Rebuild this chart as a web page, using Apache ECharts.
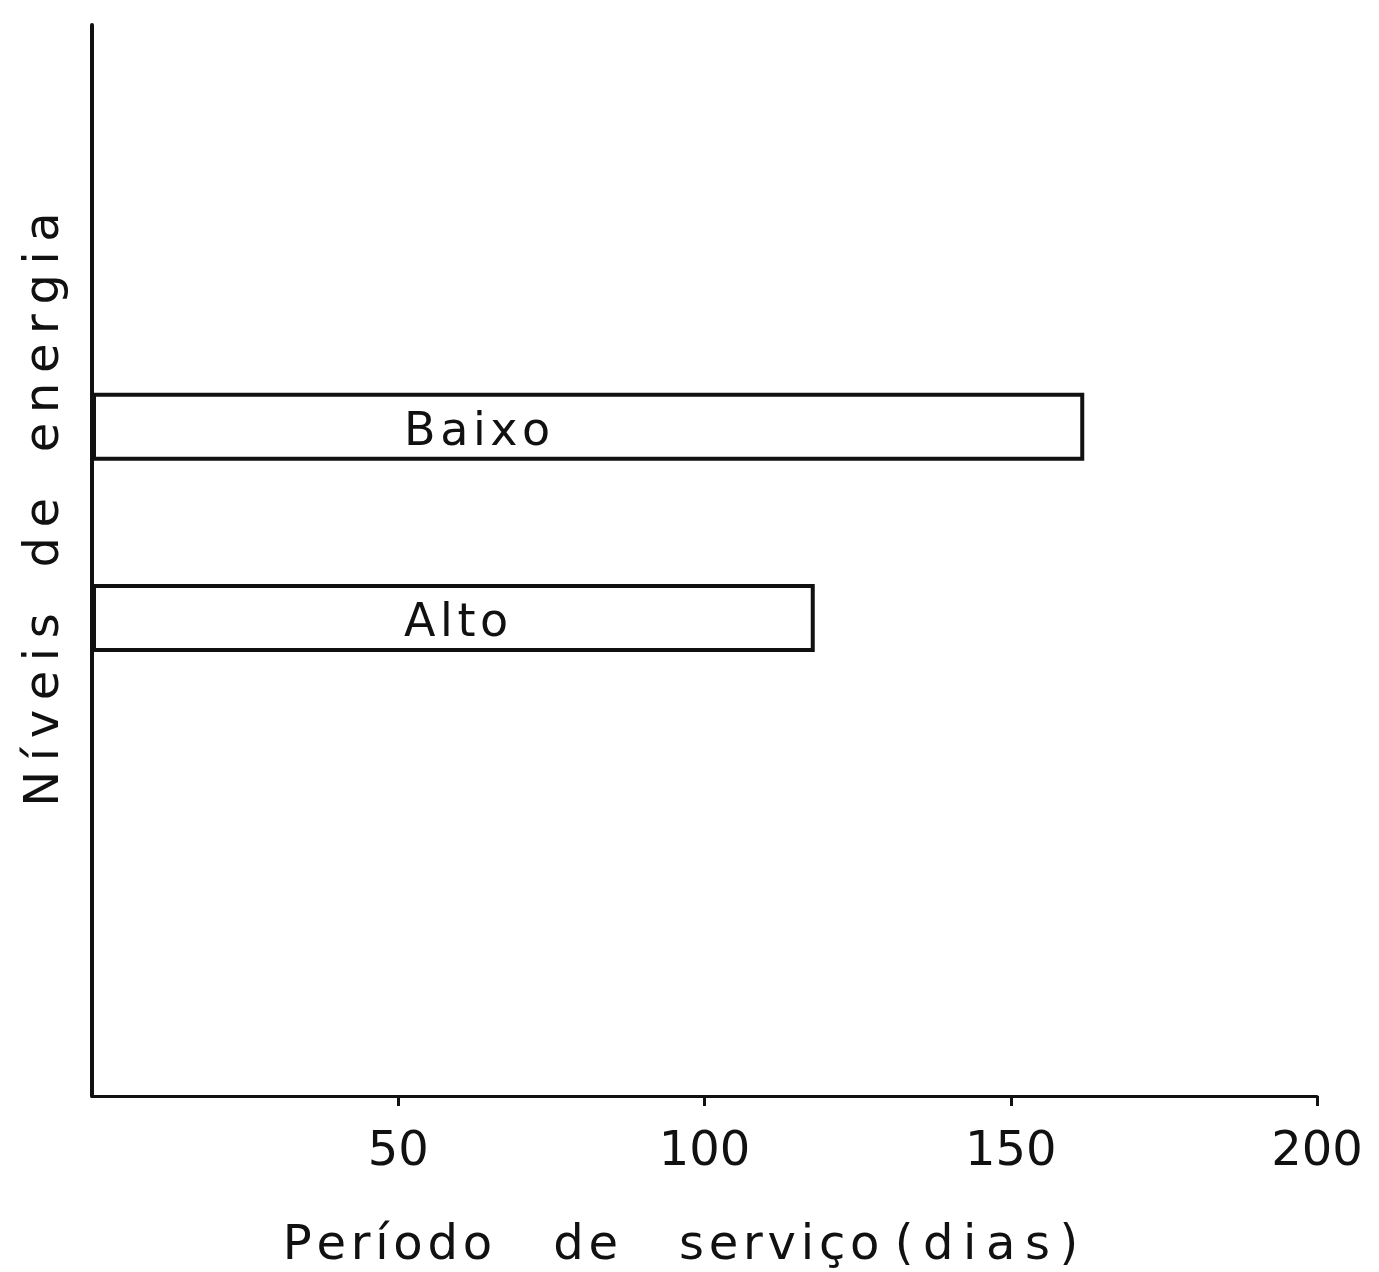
<!DOCTYPE html>
<html>
<head>
<meta charset="utf-8">
<script src="https://cdn.jsdelivr.net/npm/echarts@6/dist/echarts.min.js"></script>
<style>
  html, body { margin: 0; padding: 0; background: #fff; }
  #chart { width: 1379px; height: 1272px; }
</style>
</head>
<body>
<div id="chart"></div>
<script>
// Energy levels and their service period in days
const niveis = ['Baixo', 'Alto'];
const diasServico = [162, 118];
const xTicks = [50, 100, 150, 200];

// The vertical axis is a row of empty slots; each level sits in its own slot
const slotCount = 28;
const slotOf = { 'Baixo': 17, 'Alto': 12 };
const slots = Array.from({ length: slotCount }, () => '');
niveis.forEach(n => { slots[slotOf[n]] = n; });
const seriesData = slots.map(s => {
  const i = niveis.indexOf(s);
  return i < 0 ? null : diasServico[i];
});

// Spread letters apart with a narrow space between characters
const THIN = '\u2009';
const HAIR = '\u200A';
const spread = (word, gap) => Array.from(word).join(gap);
const spaced = (text, gap) => text.split(' ').map(w => spread(w, gap)).join('   ');

const xName = spread('Período', HAIR) + '    ' + spread('de', HAIR) + '    ' +
              spread('serviço', HAIR) + ' ' + spread('(dias)', THIN);

const ink = '#111';
const font = 'DejaVu Sans';

const chart = echarts.init(document.getElementById('chart'), null, { renderer: 'canvas' });
chart.setOption({
  animation: false,
  backgroundColor: '#fff',
  grid: { left: 92, right: 62, top: 25, bottom: 176, containLabel: false, outerBoundsMode: 'none' },
  xAxis: {
    type: 'value',
    min: 0,
    max: 200,
    interval: 50,
    name: xName,
    nameLocation: 'middle',
    nameGap: 127,
    nameTextStyle: { color: ink, fontFamily: font, fontSize: 48, padding: [0, 48, 0, 0] },
    axisLine: { show: true, lineStyle: { color: ink, width: 3 } },
    axisTick: { show: true, length: 10, customValues: xTicks, lineStyle: { color: ink, width: 3 } },
    axisLabel: {
      color: ink, fontFamily: font, fontSize: 48, margin: 33,
      customValues: xTicks
    },
    splitLine: { show: false }
  },
  yAxis: {
    type: 'category',
    data: slots,
    name: spaced('Níveis de energia', THIN),
    nameLocation: 'middle',
    nameGap: 22,
    nameRotate: 90,
    nameTextStyle: { color: ink, fontFamily: font, fontSize: 48, padding: [0, 0, 0, 102] },
    axisLine: { show: true, lineStyle: { color: ink, width: 4 } },
    axisTick: { show: false },
    axisLabel: { show: false },
    splitLine: { show: false }
  },
  series: [{
    type: 'bar',
    data: seriesData,
    barWidth: 68,
    itemStyle: { color: '#fff', borderColor: ink, borderWidth: 4 },
    label: {
      show: true,
      position: [312, '50%'],
      offset: [0, 6],
      align: 'left',
      verticalAlign: 'middle',
      color: ink,
      fontFamily: font,
      fontSize: 46,
      formatter: p => spaced(slots[p.dataIndex], HAIR)
    }
  }]
});
</script>
</body>
</html>
